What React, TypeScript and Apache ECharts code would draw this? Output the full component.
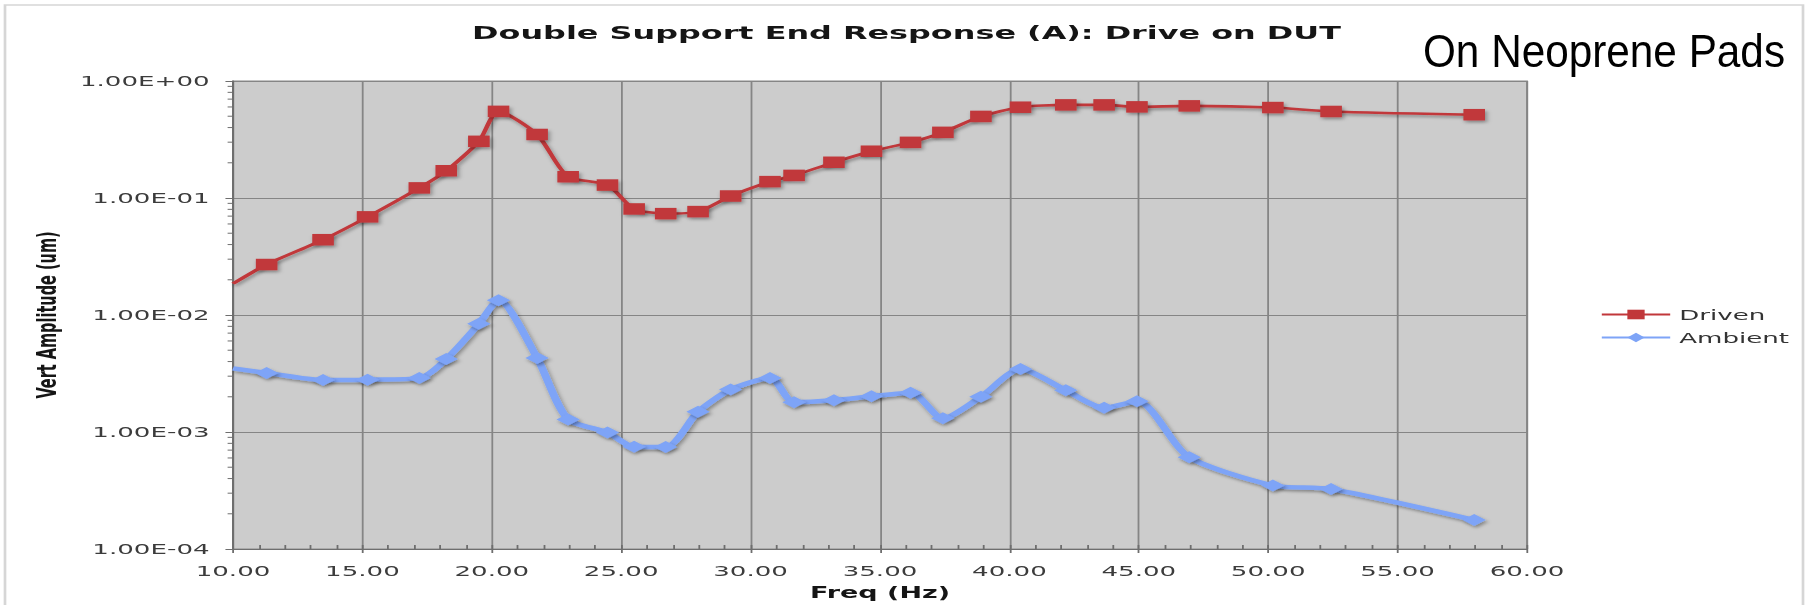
import React, { useEffect, useRef } from "react";
import * as echarts from "echarts";

// ---- data ----
const freqs = [10, 11.3, 13.48, 15.2, 17.2, 18.24, 19.5, 20.26, 21.75, 22.95, 24.47, 25.5, 26.72, 27.97, 29.23, 30.75, 31.68, 33.22, 34.67, 36.18, 37.43, 38.9, 40.43, 42.18, 43.66, 44.93, 46.95, 50.18, 52.43, 57.96];
const driven = [0.0185, 0.027, 0.044, 0.069, 0.122, 0.171, 0.305, 0.55, 0.349, 0.152, 0.129, 0.0806, 0.0735, 0.0765, 0.104, 0.138, 0.156, 0.202, 0.251, 0.299, 0.364, 0.498, 0.597, 0.625, 0.625, 0.601, 0.613, 0.593, 0.549, 0.515];
const ambient = [0.0035, 0.0032, 0.00278, 0.0028, 0.00289, 0.0042, 0.0084, 0.0134, 0.0043, 0.00128, 0.00099, 0.000748, 0.000745, 0.00149, 0.00231, 0.0029, 0.0018, 0.00187, 0.00202, 0.00217, 0.00131, 0.002, 0.00345, 0.00227, 0.00161, 0.00183, 0.000608, 0.000349, 0.000325, 0.000177];
const seriesNames = ["Driven", "Ambient"];
const decades = [1e-4, 1e-3, 1e-2, 1e-1];
const minorMultipliers = [2, 3, 4, 5, 6, 7, 8, 9];
const xMin = 10, xMax = 60, xInterval = 5;
const yMin = 1e-4, yMax = 1;

const titleText = "Double Support End Response (A): Drive on DUT";
const noteText = "On Neoprene Pads";
const xName = "Freq (Hz)";
const yName = "Vert Amplitude (um)";

// ---- layout ----
const W = 1813, H = 605;
const S = 1.8; // horizontal stretch of the whole chart
const W0 = W / S;

const fmtExp = (v: number) => {
  const e = Math.round(Math.log10(v));
  const m = v / Math.pow(10, e);
  return `${m.toFixed(2)}E${e < 0 ? "-" : "+"}${String(Math.abs(e)).padStart(2, "0")}`;
};

const FONT = "DejaVu Sans";

export default function App() {
  const ref = useRef<HTMLDivElement>(null);
  useEffect(() => {
    document.body.style.margin = "0";
    document.body.style.background = "#ffffff";
    if (!ref.current) return;
    const chart = echarts.init(ref.current, null, { renderer: "svg", width: W0, height: H });

    const mk = (vals: number[]) =>
      freqs.map((f, i) => (i === 0 ? { value: [f, vals[i]], symbol: "none" } : [f, vals[i]]));

    const minorTicks: number[][] = [];
    decades.forEach((d) => minorMultipliers.forEach((m) => minorTicks.push([xMin, d * m])));

    const shadow = { shadowColor: "rgba(0,0,0,0.35)", shadowBlur: 3, shadowOffsetX: 1, shadowOffsetY: 2 };

    chart.setOption({
      animation: false,
      backgroundColor: "#ffffff",
      title: {
        text: titleText,
        left: "center",
        top: 19,
        textStyle: { fontFamily: FONT, fontWeight: "bold", fontSize: 17.7, color: "#151515" },
      },
      legend: {
        data: seriesNames,
        orient: "vertical",
        left: 1600 / S - 5,
        top: 302,
        itemWidth: 38,
        itemHeight: 12,
        itemGap: 8,
        textStyle: { fontFamily: FONT, fontSize: 14.5, color: "#333" },
      },
      grid: {
        left: 233 / S,
        right: W0 - 1527 / S,
        top: 81,
        bottom: H - 552,
        show: true,
        backgroundColor: "#cccccc",
        borderColor: "#8a8a8a",
        borderWidth: 1,
      },
      xAxis: [
        {
          type: "value",
          min: xMin,
          max: xMax,
          interval: xInterval,
          name: xName,
          nameLocation: "middle",
          nameGap: 36,
          nameTextStyle: { fontFamily: FONT, fontWeight: "bold", fontSize: 15, color: "#151515" },
          axisLine: { show: true, lineStyle: { color: "#6e6e6e", width: 1.2 } },
          axisTick: { show: true, length: 4, lineStyle: { color: "#6e6e6e" } },
          axisLabel: {
            formatter: (v: number) => v.toFixed(2),
            margin: 14,
            fontFamily: FONT,
            fontSize: 14.5,
            color: "#3c3c3c",
          },
          splitLine: { show: true, lineStyle: { color: "#858585", width: 1 } },
        },
        {
          type: "value",
          min: xMin,
          max: xMax,
          interval: 1,
          position: "bottom",
          axisLine: { show: false },
          axisTick: { show: true, inside: true, length: 4, lineStyle: { color: "#6e6e6e" } },
          axisLabel: { show: false },
          splitLine: { show: false },
        },
      ],
      yAxis: {
        type: "log",
        logBase: 10,
        min: yMin,
        max: yMax,
        name: yName,
        nameLocation: "middle",
        nameGap: 90,
        nameTextStyle: { fontFamily: FONT, fontWeight: "bold", fontSize: 14.5, color: "#151515" },
        axisLine: { show: true, lineStyle: { color: "#6e6e6e", width: 1.2 } },
        axisTick: { show: true, length: 4.2, lineStyle: { color: "#6e6e6e" } },
        axisLabel: { formatter: fmtExp, margin: 13, fontFamily: FONT, fontSize: 14.5, color: "#3c3c3c" },
        splitLine: { show: true, lineStyle: { color: "#858585", width: 1 } },
      },
      graphic: [
        {
          type: "rect",
          silent: true,
          z: -10,
          shape: { x: 5 / S, y: 5, width: (1803 - 5) / S, height: 700 },
          style: { fill: "none", stroke: "#d6d6d6", lineWidth: 1.5 },
        },
        {
          type: "text",
          x: 1604 / S,
          y: 51,
          scaleX: 0.9 / S,
          style: {
            text: noteText,
            fontFamily: "Liberation Sans",
            fontSize: 47,
            fill: "#000",
            align: "center",
            verticalAlign: "middle",
          },
        },
      ],
      series: [
        {
          name: seriesNames[0],
          type: "line",
          data: mk(driven),
          smooth: 0.25,
          symbol: "rect",
          symbolSize: [12, 11.5],
          lineStyle: { color: "#c1373a", width: 2.6, ...shadow },
          itemStyle: { color: "#c1373a", ...shadow },
          z: 3,
        },
        {
          name: seriesNames[1],
          type: "line",
          data: mk(ambient),
          smooth: 0.25,
          symbol: "diamond",
          symbolSize: [13, 12],
          lineStyle: { color: "#7ea4f7", width: 4.5, ...shadow },
          itemStyle: { color: "#7ea4f7", ...shadow },
          z: 3,
        },
        {
          name: "yMinorTicks",
          type: "custom",
          silent: true,
          clip: false,
          data: minorTicks,
          renderItem: (params: any, api: any) => {
            const p = api.coord([api.value(0), api.value(1)]);
            return {
              type: "line",
              shape: { x1: p[0] - 3, y1: p[1], x2: p[0], y2: p[1] },
              style: { stroke: "#6e6e6e", lineWidth: 1 },
            };
          },
        },
      ],
    });
    return () => chart.dispose();
  }, []);

  return (
    <div style={{ width: W, height: H, overflow: "hidden", position: "relative" }}>
      <div
        ref={ref}
        style={{
          width: W0,
          height: H,
          transform: `scaleX(${S})`,
          transformOrigin: "0 0",
        }}
      />
    </div>
  );
}
